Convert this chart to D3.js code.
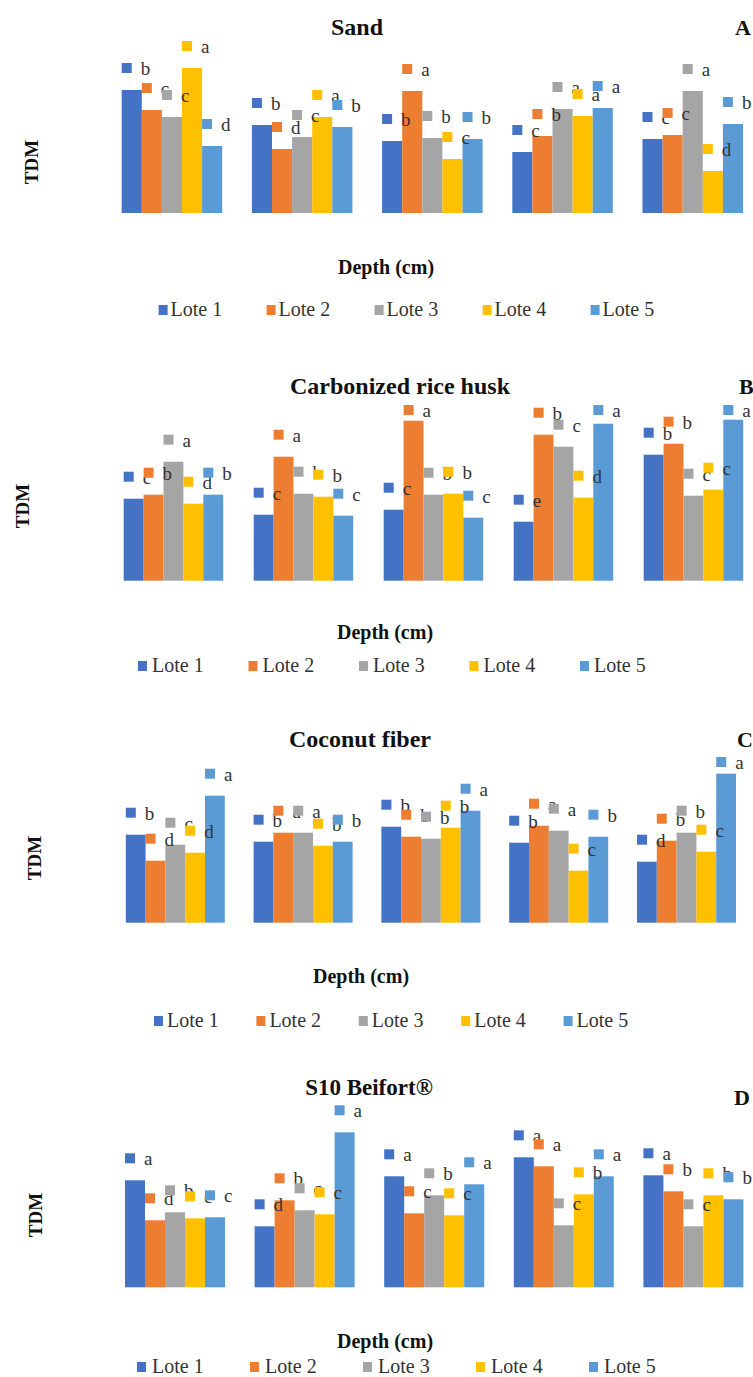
<!DOCTYPE html>
<html>
<head>
<meta charset="utf-8">
<script src="https://cdn.jsdelivr.net/npm/d3@7"></script>
<style>
  html, body { margin: 0; padding: 0; background: #ffffff; }
  svg { display: block; }
</style>
</head>
<body>
<script>
// ---------------- DATA ----------------
const lotes = ["Lote 1", "Lote 2", "Lote 3", "Lote 4", "Lote 5"];
const depthGroups = ["G1", "G2", "G3", "G4", "G5"]; // depth groups (unlabelled in the figure)
const loteColors = ["#4472C4", "#ED7D31", "#A5A5A5", "#FFC000", "#5B9BD5"];

const sandValues = [
  [123, 103, 96, 145, 67],
  [88, 64, 76, 96, 86],
  [72, 122, 75, 54, 74],
  [61, 77, 104, 97, 105],
  [74, 78, 122, 42, 89]
];
const sandLetters = [
  ["b", "c", "c", "a", "d"],
  ["b", "d", "c", "a", "b"],
  ["b", "a", "b", "c", "b"],
  ["c", "b", "a", "a", "a"],
  ["c", "c", "a", "d", "b"]
];

const riceValues = [
  [82, 86, 119, 77, 86],
  [66, 124, 87, 84, 65],
  [71, 160, 86, 87, 63],
  [59, 146, 134, 83, 157],
  [126, 137, 85, 91, 161]
];
const riceLetters = [
  ["c", "b", "a", "d", "b"],
  ["c", "a", "b", "b", "c"],
  ["c", "a", "b", "b", "c"],
  ["e", "b", "c", "d", "a"],
  ["b", "b", "c", "c", "a"]
];

const coconutValues = [
  [88, 62, 78, 70, 127],
  [81, 90, 90, 77, 81],
  [96, 86, 84, 95, 112],
  [80, 97, 92, 52, 86],
  [61, 82, 90, 71, 149]
];
const coconutLetters = [
  ["b", "d", "c", "d", "a"],
  ["b", "a", "a", "b", "b"],
  ["b", "b", "b", "b", "a"],
  ["b", "a", "a", "c", "b"],
  ["d", "b", "b", "c", "a"]
];

const beifortValues = [
  [107, 67, 75, 69, 70],
  [61, 87, 77, 73, 155],
  [111, 74, 92, 72, 103],
  [130, 121, 62, 93, 111],
  [112, 96, 61, 92, 88]
];
const beifortLetters = [
  ["a", "d", "b", "c", "c"],
  ["d", "b", "c", "c", "a"],
  ["a", "c", "b", "c", "a"],
  ["a", "a", "c", "b", "a"],
  ["a", "b", "c", "b", "b"]
];

const panelTitles = ["Sand", "Carbonized rice husk", "Coconut fiber", "S10 Beifort®"];
const panelTags = ["A", "B", "C", "D"];
const yAxisTitle = "TDM";
const xAxisTitle = "Depth (cm)";

// ---------------- LAYOUT ----------------
const W = 753, H = 1377;
const serif = "'Liberation Serif', 'Times New Roman', Times, serif";
const layouts = [
  { base: 213,   x0: 106.85, step: 130.2, bw: 100.5, titleX: 357, titleY: 35,   titleSize: 24, tagX: 735, tagY: 35,   tdmX: 31, tdmY: 162,
    depthX: 386, depthY: 274, legY: 316, legX0: 158.6, legStep: 108, legGap: 12, clamp: -1e9 },
  { base: 580.7, x0: 108.45, step: 130,   bw: 99.5,  titleX: 400, titleY: 394,  titleSize: 24, tagX: 739, tagY: 394,  tdmX: 22, tdmY: 506,
    depthX: 385, depthY: 639, legY: 672, legX0: 138, legStep: 110.5, legGap: 14, clamp: 410 },
  { base: 922.7, x0: 111.4,  step: 127.8, bw: 99,    titleX: 360, titleY: 747,  titleSize: 24, tagX: 737, tagY: 747,  tdmX: 34, tdmY: 858,
    depthX: 361, depthY: 983, legY: 1027, legX0: 154, legStep: 102.4, legGap: 13, clamp: 762 },
  { base: 1287.3, x0: 110.2, step: 129.6, bw: 100,   titleX: 369, titleY: 1095, titleSize: 23, tagX: 734, tagY: 1105, tdmX: 35, tdmY: 1215,
    depthX: 385, depthY: 1348, legY: 1373, legX0: 137, legStep: 113, legGap: 15, clamp: -1e9 }
];

const panelValues = [sandValues, riceValues, coconutValues, beifortValues];
const panelLetters = [sandLetters, riceLetters, coconutLetters, beifortLetters];

const svg = d3.select("body").append("svg")
  .attr("width", W).attr("height", H)
  .attr("viewBox", `0 0 ${W} ${H}`);

svg.append("rect").attr("width", W).attr("height", H).attr("fill", "#fff");

const color = d3.scaleOrdinal().domain(lotes).range(loteColors);

panelValues.forEach((vals, pi) => {
  const L = layouts[pi];
  const letters = panelLetters[pi];
  const g = svg.append("g").attr("class", "panel");

  const pad = 1 - L.bw / L.step;
  const x = d3.scaleBand().domain(depthGroups)
    .range([L.x0, L.x0 + 5 * L.step])
    .paddingInner(pad).paddingOuter(pad / 2);
  const xs = d3.scaleBand().domain(lotes).range([0, x.bandwidth()]).padding(0);
  const y = d3.scaleLinear().domain([0, 170]).range([L.base, L.base - 170]);

  const recs = [];
  depthGroups.forEach((dg, gi) => {
    lotes.forEach((lt, li) => {
      recs.push({ group: dg, lote: lt, li, value: vals[gi][li], letter: letters[gi][li] });
    });
  });

  // bars
  g.append("g").selectAll("rect").data(recs).join("rect")
    .attr("x", d => x(d.group) + xs(d.lote))
    .attr("y", d => y(d.value))
    .attr("width", xs.bandwidth())
    .attr("height", d => y(0) - y(d.value))
    .attr("fill", d => color(d.lote));

  // data labels (legend key + letter), drawn series by series
  const labG = g.append("g");
  lotes.forEach((lt) => {
    const sr = recs.filter(r => r.lote === lt);
    const lg = labG.append("g");
    sr.forEach(d => {
      const bx = x(d.group) + xs(d.lote);
      const cy = Math.max(y(d.value) - 22, L.clamp);
      lg.append("rect")
        .attr("x", bx).attr("y", cy - 5)
        .attr("width", 10).attr("height", 10)
        .attr("fill", color(d.lote));
      lg.append("text")
        .attr("x", bx + 19).attr("y", cy + 7)
        .attr("font-family", serif).attr("font-size", 19)
        .attr("fill", "#333")
        .text(d.letter);
    });
  });

  // title and tag
  g.append("text").attr("x", L.titleX).attr("y", L.titleY)
    .attr("text-anchor", "middle").attr("font-family", serif)
    .attr("font-weight", "bold").attr("font-size", L.titleSize).attr("fill", "#111")
    .text(panelTitles[pi]);
  g.append("text").attr("x", L.tagX).attr("y", L.tagY)
    .attr("font-family", serif).attr("font-weight", "bold")
    .attr("font-size", 22).attr("fill", "#111")
    .text(panelTags[pi]);

  // y-axis title
  g.append("text")
    .attr("transform", `translate(${L.tdmX + 7},${L.tdmY}) rotate(-90)`)
    .attr("text-anchor", "middle").attr("font-family", serif)
    .attr("font-weight", "bold").attr("font-size", 19).attr("fill", "#111")
    .text(yAxisTitle);

  // x-axis title
  g.append("text").attr("x", L.depthX).attr("y", L.depthY)
    .attr("text-anchor", "middle").attr("font-family", serif)
    .attr("font-weight", "bold").attr("font-size", 20).attr("fill", "#111")
    .text(xAxisTitle);

  // legend
  const leg = g.append("g");
  lotes.forEach((lt, li) => {
    const lx = L.legX0 + li * L.legStep;
    leg.append("rect").attr("x", lx).attr("y", L.legY - 11)
      .attr("width", 9).attr("height", 10).attr("fill", color(lt));
    leg.append("text").attr("x", lx + L.legGap).attr("y", L.legY)
      .attr("font-family", serif).attr("font-size", 20).attr("fill", "#333")
      .text(lt);
  });
});
</script>
</body>
</html>
